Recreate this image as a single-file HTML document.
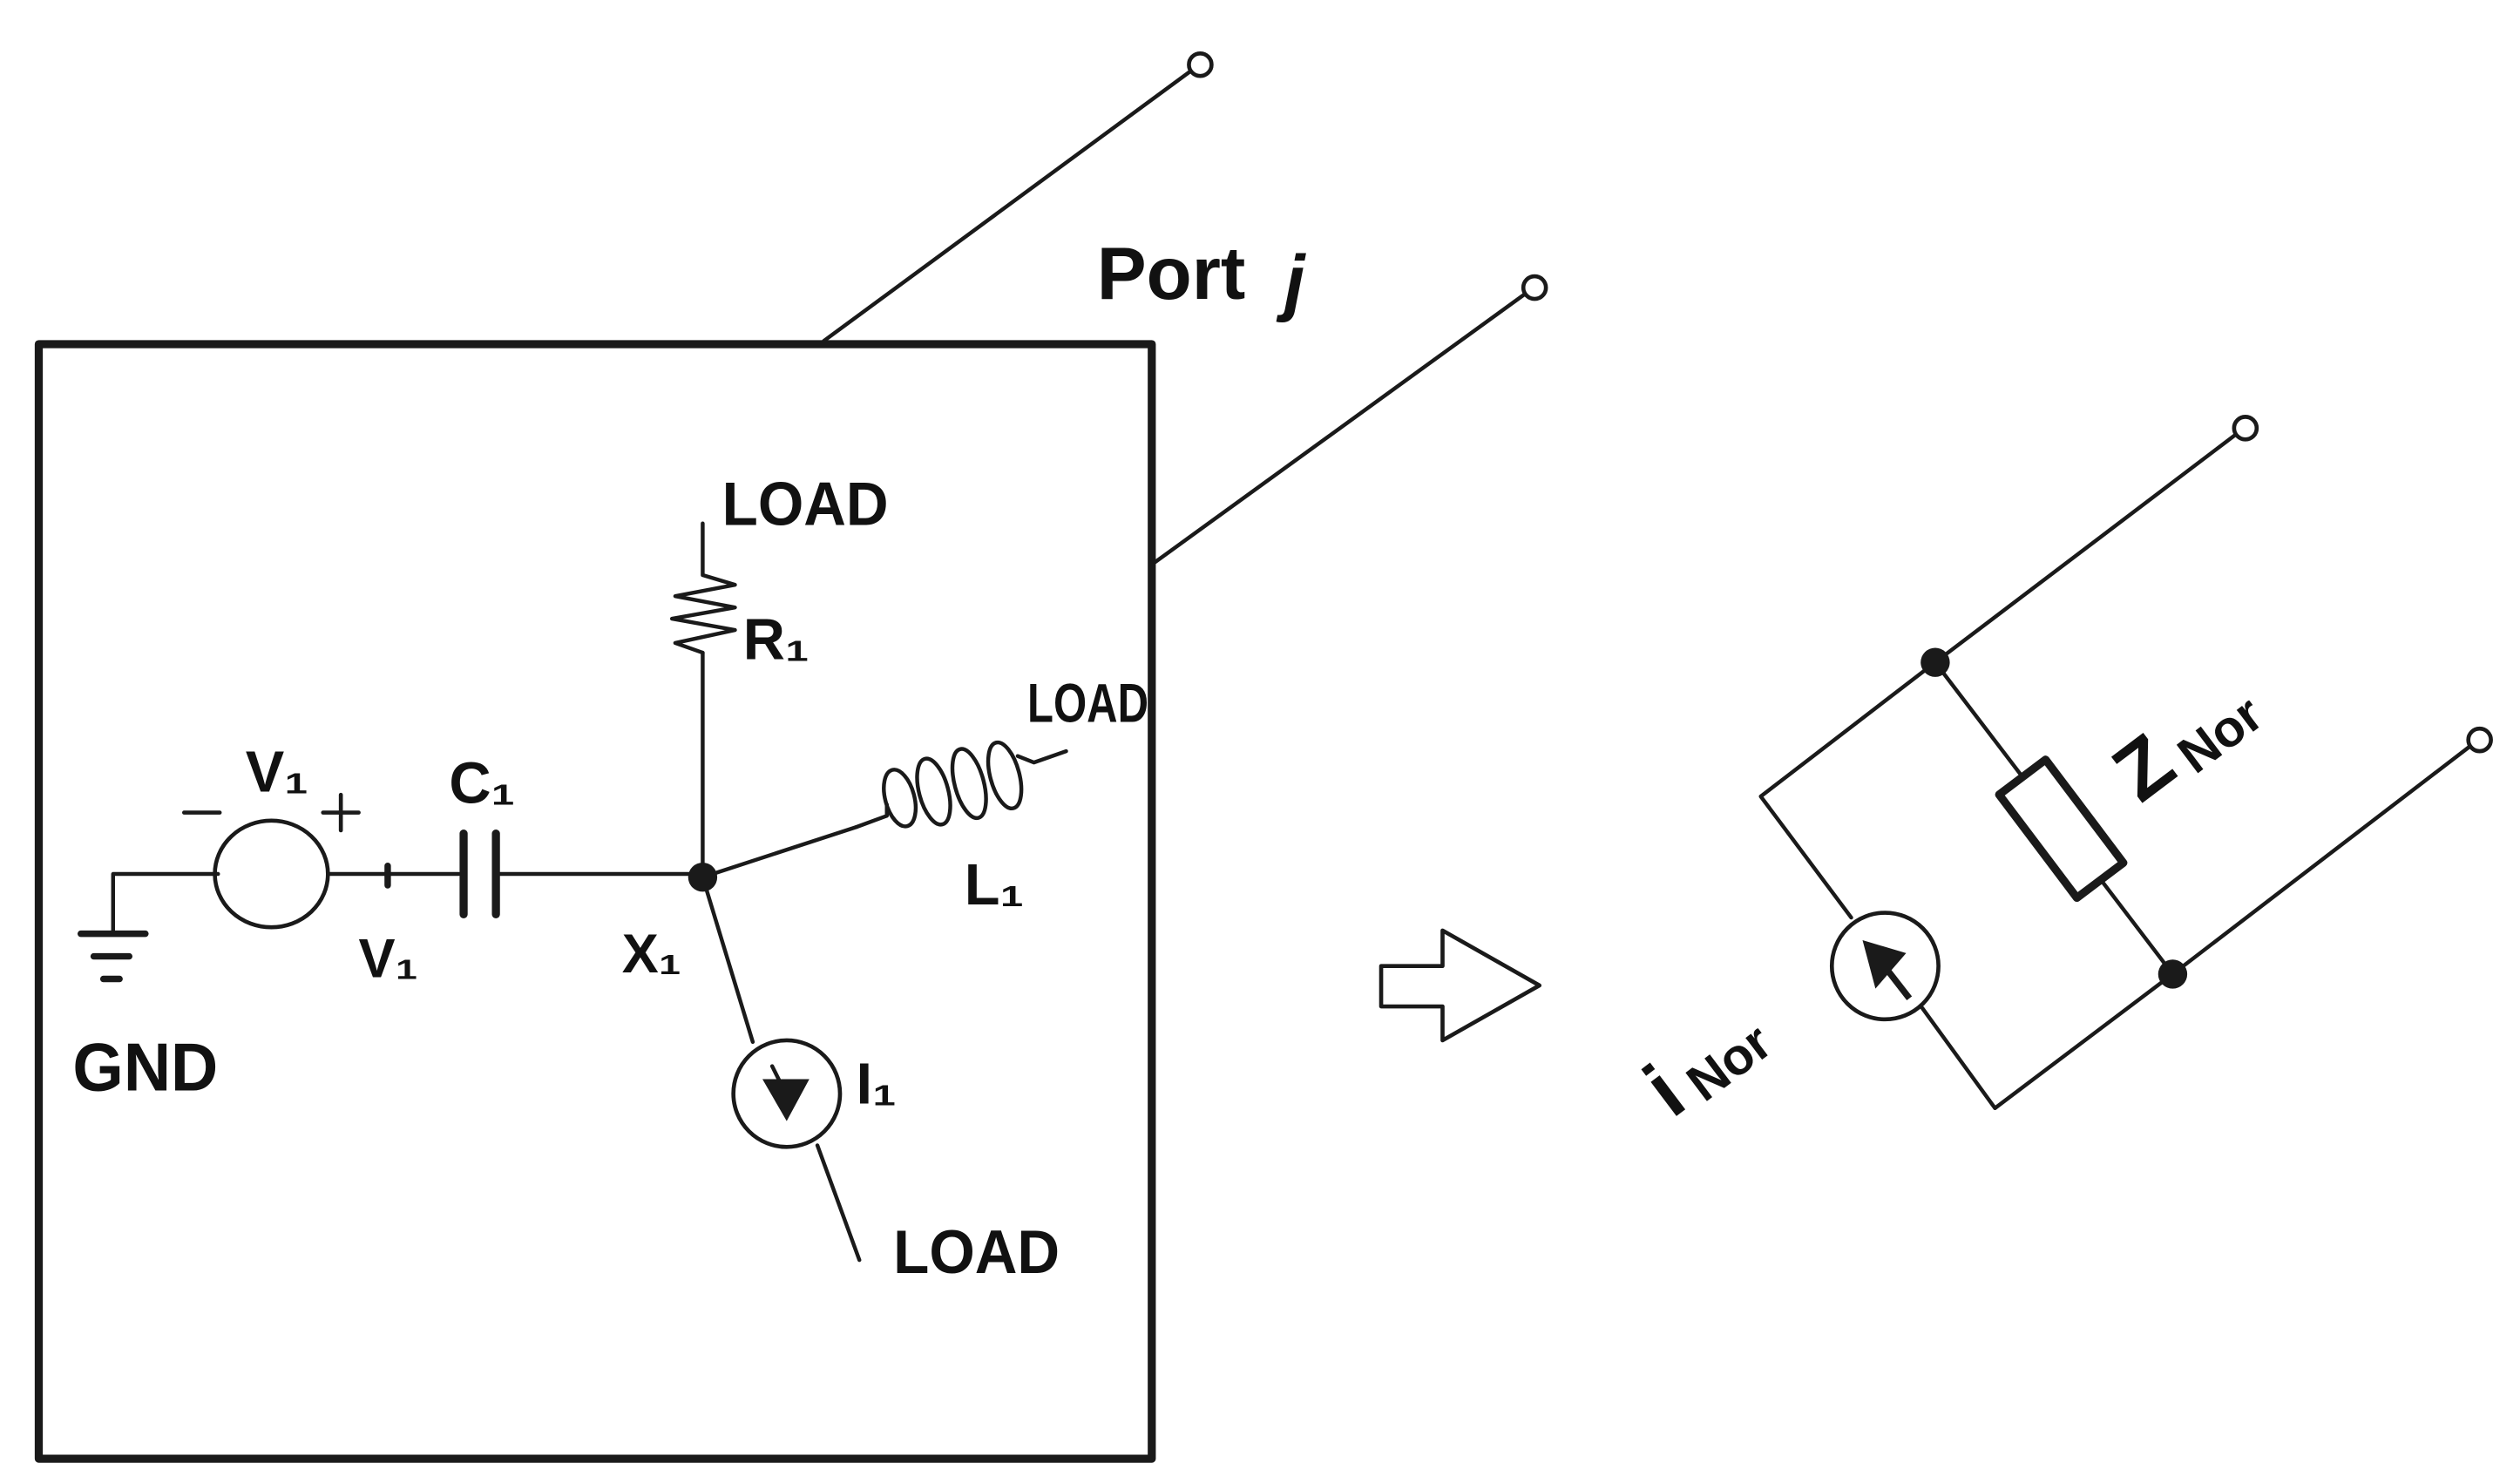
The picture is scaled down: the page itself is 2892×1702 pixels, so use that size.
<!DOCTYPE html>
<html><head><meta charset="utf-8"><style>
html,body{margin:0;padding:0;background:#fff;}
svg{display:block;}
text{font-family:"Liberation Sans",sans-serif;fill:#111;}
.h{font-family:"Liberation Sans Narrow","Liberation Sans",sans-serif;font-weight:bold;}
</style></head><body>
<svg width="2892" height="1702" viewBox="0 0 1560 918" xmlns="http://www.w3.org/2000/svg">
<g stroke="#1a1a1a" fill="none" stroke-width="2.4" stroke-linecap="round" stroke-linejoin="round">
<rect x="24" y="213" width="689" height="690" stroke-width="5"/>
<line x1="510" y1="211" x2="737" y2="44"/>
<circle cx="743" cy="40" r="7" stroke-width="2.5"/>
<line x1="715" y1="348" x2="944" y2="182"/>
<circle cx="950" cy="178" r="7" stroke-width="2.5"/>
<polyline points="135,541 70,541 70,578"/>
<line x1="50" y1="578" x2="90" y2="578" stroke-width="4"/>
<line x1="58" y1="592" x2="80" y2="592" stroke-width="4"/>
<line x1="64" y1="606" x2="74" y2="606" stroke-width="4"/>
<ellipse cx="168" cy="541" rx="35" ry="33" stroke-width="2.5"/>
<line x1="114" y1="503" x2="136" y2="503" stroke-width="2.5"/>
<line x1="200" y1="503" x2="222" y2="503" stroke-width="2.5"/>
<line x1="211" y1="492" x2="211" y2="514" stroke-width="2.5"/>
<line x1="203" y1="541" x2="284" y2="541"/>
<line x1="240" y1="536" x2="240" y2="548" stroke-width="4"/>
<line x1="287" y1="516" x2="287" y2="566" stroke-width="5"/>
<line x1="307" y1="516" x2="307" y2="566" stroke-width="5"/>
<line x1="309" y1="541" x2="435" y2="541"/>
<line x1="435" y1="543" x2="435" y2="404"/>
<polyline points="435,404 418,398 455,390 416,383 455,376 418,369 455,362 435,356 435,324"/>
<line x1="435" y1="543" x2="530" y2="512"/>
<polyline points="530,512 549,505 549,498"/>
<ellipse cx="557" cy="494" rx="9" ry="18" transform="rotate(-15 557 494)"/>
<ellipse cx="578" cy="490" rx="9" ry="21" transform="rotate(-15 578 490)"/>
<ellipse cx="600" cy="485" rx="9" ry="22" transform="rotate(-15 600 485)"/>
<ellipse cx="622" cy="480" rx="9" ry="21" transform="rotate(-15 622 480)"/>
<polyline points="630,468 640,472 660,465"/>
<line x1="435" y1="543" x2="466" y2="645"/>
<circle cx="487" cy="677" r="33" stroke-width="2.5"/>
<line x1="506" y1="709" x2="532" y2="780"/>
<line x1="478" y1="660" x2="486" y2="676"/>
<polygon points="855,598 893,598 893,576 953,610 893,644 893,623 855,623" stroke-width="2.5"/>
<line x1="1198" y1="410" x2="1384" y2="269"/>
<circle cx="1390" cy="265" r="7" stroke-width="2.5"/>
<line x1="1345" y1="603" x2="1529" y2="462"/>
<circle cx="1535" cy="458" r="7" stroke-width="2.5"/>
<polyline points="1198,410 1090,493 1146,568"/>
<circle cx="1167" cy="598" r="33" stroke-width="2.5"/>
<polyline points="1190,624 1235,686 1345,603"/>
<line x1="1198" y1="410" x2="1345" y2="603"/>
<rect x="-18" y="-40" width="36" height="80" fill="#fff" stroke-width="5" transform="translate(1276,513) rotate(-37)"/>
</g>
<g fill="#1a1a1a">
<circle cx="435" cy="543" r="9"/>
<circle cx="1198" cy="410" r="9"/>
<circle cx="1345" cy="603" r="9"/>
<polygon points="472,668 501,668 487,694"/>
<polygon points="1153,582 1180,590 1161,612"/>
<line x1="1168" y1="600" x2="1182" y2="618" stroke="#1a1a1a" stroke-width="4"/>
</g>
<text x="679" y="185" font-size="46" font-weight="bold">Port</text>
<text x="795" y="190" font-size="46" font-weight="bold" font-style="italic">j</text>
<g class="h">
<text x="152" y="490" font-size="36" class="h">V₁</text>
<text x="222" y="605" font-size="34" class="h">V₁</text>
<text x="278" y="497" font-size="36" class="h">C₁</text>
<text x="385" y="602" font-size="34" class="h">X₁</text>
<text x="447" y="325" font-size="38" textLength="103" lengthAdjust="spacingAndGlyphs" class="h">LOAD</text>
<text x="460" y="408" font-size="36" class="h">R₁</text>
<text x="636" y="447" font-size="34" textLength="75" lengthAdjust="spacingAndGlyphs" class="h">LOAD</text>
<text x="597" y="560" font-size="36" class="h">L₁</text>
<text x="530" y="683" font-size="36" class="h">I₁</text>
<text x="553" y="788" font-size="38" textLength="103" lengthAdjust="spacingAndGlyphs" class="h">LOAD</text>
<text x="45" y="675" font-size="42" textLength="90" lengthAdjust="spacingAndGlyphs" class="h">GND</text>
</g>
<g transform="translate(1325,498) rotate(-37)">
<text x="0" y="0" font-size="50" font-weight="bold">Z</text>
<text x="38" y="6" font-size="32" font-weight="bold">Nor</text>
</g>
<g transform="translate(1035,693) rotate(-37)">
<text x="0" y="0" font-size="50" font-weight="bold">i</text>
<text x="22" y="4" font-size="32" font-weight="bold">Nor</text>
</g>
</svg>
</body></html>
